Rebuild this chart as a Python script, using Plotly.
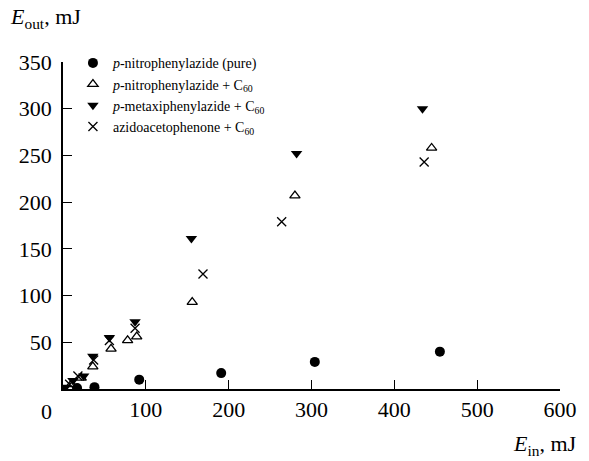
import plotly.graph_objects as go

# Input energy (mJ) vs output energy (mJ) for each limiter composition
pure_ein = [17, 38, 92, 191, 304, 455]
pure_eout = [1, 2, 10, 17, 29, 40]

npa_c60_ein = [10, 22, 36, 58, 78, 89, 156, 280, 445]
npa_c60_eout = [5, 12, 24, 43, 52, 56, 93, 207, 258]

mpa_c60_ein = [3, 12, 25, 36, 56, 87, 155, 282, 434]
mpa_c60_eout = [2, 9, 14, 35, 55, 72, 161, 252, 300]

aap_c60_ein = [8, 18, 37, 56, 87, 169, 264, 436]
aap_c60_eout = [5, 14, 31, 52, 65, 123, 179, 243]

x_ticks = [100, 200, 300, 400, 500, 600]
y_ticks = [50, 100, 150, 200, 250, 300, 350]

FONT = "Liberation Serif, Times New Roman, serif"

fig = go.Figure()

fig.add_trace(go.Scatter(
    x=pure_ein, y=pure_eout, mode="markers",
    name="<i>p</i>-nitrophenylazide (pure)",
    marker=dict(symbol="circle", size=10, color="black"),
))
fig.add_trace(go.Scatter(
    x=npa_c60_ein, y=npa_c60_eout, mode="markers",
    name="<i>p</i>-nitrophenylazide + C<sub>60</sub>",
    marker=dict(symbol="triangle-up-open", size=9, color="black",
                line=dict(width=1.3, color="black")),
))
fig.add_trace(go.Scatter(
    x=mpa_c60_ein, y=mpa_c60_eout, mode="markers",
    name="<i>p</i>-metaxiphenylazide + C<sub>60</sub>",
    marker=dict(symbol="triangle-down", size=10, color="black"),
))
fig.add_trace(go.Scatter(
    x=aap_c60_ein, y=aap_c60_eout, mode="markers",
    name="azidoacetophenone + C<sub>60</sub>",
    marker=dict(symbol="x-thin", size=9, color="black",
                line=dict(width=1.3, color="black")),
))

fig.update_layout(
    width=589, height=461,
    margin=dict(l=63, r=25, t=62, b=72),
    paper_bgcolor="white", plot_bgcolor="white",
    font=dict(family=FONT, size=22, color="black"),
    showlegend=True,
    legend=dict(
        x=0.02, y=1.045, xanchor="left", yanchor="top",
        font=dict(family=FONT, size=14, color="black"),
        bgcolor="rgba(0,0,0,0)", borderwidth=0,
        tracegroupgap=0,
    ),
)

fig.update_xaxes(
    range=[0, 600], tickvals=x_ticks, ticktext=[str(v) for v in x_ticks],
    showgrid=False, zeroline=False,
    showline=True, linecolor="black", linewidth=1.5,
    ticks="inside", ticklen=9, tickwidth=1.3, tickcolor="black",
    tickfont=dict(family=FONT, size=22),
)
fig.update_yaxes(
    range=[0, 350], tickvals=y_ticks, ticktext=[str(v) for v in y_ticks],
    showgrid=False, zeroline=False,
    showline=True, linecolor="black", linewidth=1.5,
    ticks="inside", ticklen=9, tickwidth=1.3, tickcolor="black",
    tickfont=dict(family=FONT, size=22), ticklabelstandoff=5,
)

# Origin label, axis titles
fig.add_annotation(x=0, y=0, xref="x", yref="y", text="0", showarrow=False,
                   xshift=-17, yshift=-22, font=dict(family=FONT, size=22))
fig.add_annotation(x=-0.11, y=1.135, xref="paper", yref="paper",
                   text="<i>E</i><sub>out</sub>, mJ",
                   showarrow=False, xanchor="left", yanchor="middle",
                   font=dict(family=FONT, size=22))
fig.add_annotation(x=1, y=0, xref="paper", yref="paper", text="<i>E</i><sub>in</sub>, mJ",
                   showarrow=False, xanchor="right", yanchor="top",
                   xshift=19, yshift=-40,
                   font=dict(family=FONT, size=22))

fig.write_html("out.html")
